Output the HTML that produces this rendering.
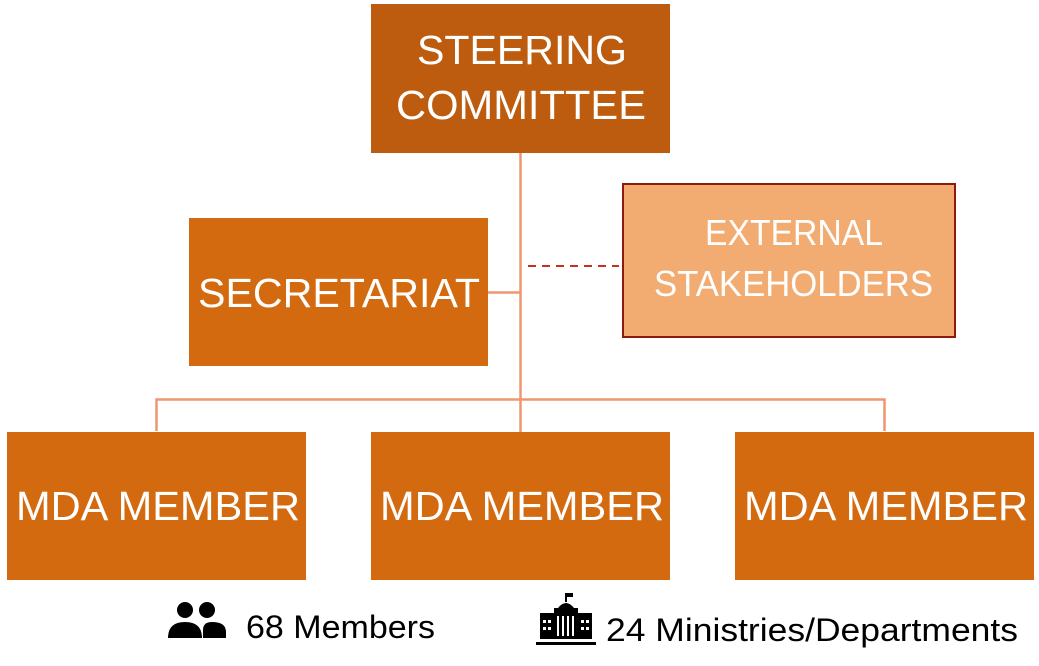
<!DOCTYPE html>
<html><head><meta charset="utf-8"><style>
html,body{margin:0;padding:0;background:#fff;width:1039px;height:666px;overflow:hidden}
svg{display:block}
text{font-family:"Liberation Sans",sans-serif;fill:#fff}
</style></head><body>
<svg width="1039" height="666" viewBox="0 0 1039 666" xmlns="http://www.w3.org/2000/svg">
<g stroke="#EE9670" stroke-width="2.5" fill="none">
<line x1="520.5" y1="153" x2="520.5" y2="432"/>
<line x1="488" y1="292.5" x2="520.5" y2="292.5"/>
<polyline points="156.5,431 156.5,399.5 884.5,399.5 884.5,431"/>
</g>
<line x1="528" y1="266" x2="619" y2="266" stroke="#C4321C" stroke-width="2" stroke-dasharray="8,6"/>
<rect x="371" y="4" width="299" height="149" fill="#BD5C0E"/>
<rect x="189" y="218" width="299" height="148" fill="#D46A0F"/>
<rect x="623" y="184" width="332" height="153" fill="#F2AC72" stroke="#8E1A0C" stroke-width="2"/>
<rect x="7" y="432" width="299" height="148" fill="#D46A0F"/>
<rect x="371" y="432" width="299" height="148" fill="#D46A0F"/>
<rect x="735" y="432" width="299" height="148" fill="#D46A0F"/>
<g font-size="41">
<text x="417" y="64" textLength="210" lengthAdjust="spacingAndGlyphs">STEERING</text>
<text x="396" y="119" textLength="250" lengthAdjust="spacingAndGlyphs">COMMITTEE</text>
<text x="198" y="307" textLength="282" lengthAdjust="spacingAndGlyphs">SECRETARIAT</text>
<text x="16" y="520" textLength="284" lengthAdjust="spacingAndGlyphs">MDA MEMBER</text>
<text x="380" y="520" textLength="284" lengthAdjust="spacingAndGlyphs">MDA MEMBER</text>
<text x="744" y="520" textLength="284" lengthAdjust="spacingAndGlyphs">MDA MEMBER</text>
</g>
<g font-size="36">
<text x="705" y="245" textLength="178" lengthAdjust="spacingAndGlyphs">EXTERNAL</text>
<text x="654" y="296" textLength="279" lengthAdjust="spacingAndGlyphs">STAKEHOLDERS</text>
</g>
<g font-size="32" style="fill:#000">
<text x="246" y="638" textLength="189" lengthAdjust="spacingAndGlyphs" style="fill:#000">68 Members</text>
<text x="606" y="641" textLength="412" lengthAdjust="spacingAndGlyphs" style="fill:#000">24 Ministries/Departments</text>
</g>
<!-- people icon -->
<g fill="#000">
<circle cx="185" cy="610" r="8"/>
<circle cx="207" cy="610" r="8"/>
<path d="M168 638 Q168 622 185 622 Q202 622 202 638 Z"/>
<path d="M203 638 L203 630 Q203 622 212 622 Q226 622 226 632 L226 638 Z"/>
</g>
<!-- building icon -->
<g fill="#000">
<rect x="565" y="593" width="2" height="9"/>
<rect x="567" y="593" width="6" height="4"/>
<path d="M558 608 Q566 598 574 608 Z"/>
<rect x="554" y="608" width="24" height="5"/>
<rect x="540" y="613" width="52" height="26"/>
<rect x="536" y="642" width="60" height="3"/>
</g>
<g fill="#fff">
<rect x="557" y="616" width="2" height="20"/><rect x="562" y="616" width="2" height="20"/>
<rect x="567" y="616" width="2" height="20"/><rect x="572" y="616" width="2" height="20"/>
<rect x="543" y="620" width="3" height="3"/><rect x="548" y="620" width="3" height="3"/>
<rect x="543" y="627" width="3" height="3"/><rect x="548" y="627" width="3" height="3"/>
<rect x="581" y="620" width="3" height="3"/><rect x="586" y="620" width="3" height="3"/>
<rect x="581" y="627" width="3" height="3"/><rect x="586" y="627" width="3" height="3"/>
</g>
</svg>
</body></html>
